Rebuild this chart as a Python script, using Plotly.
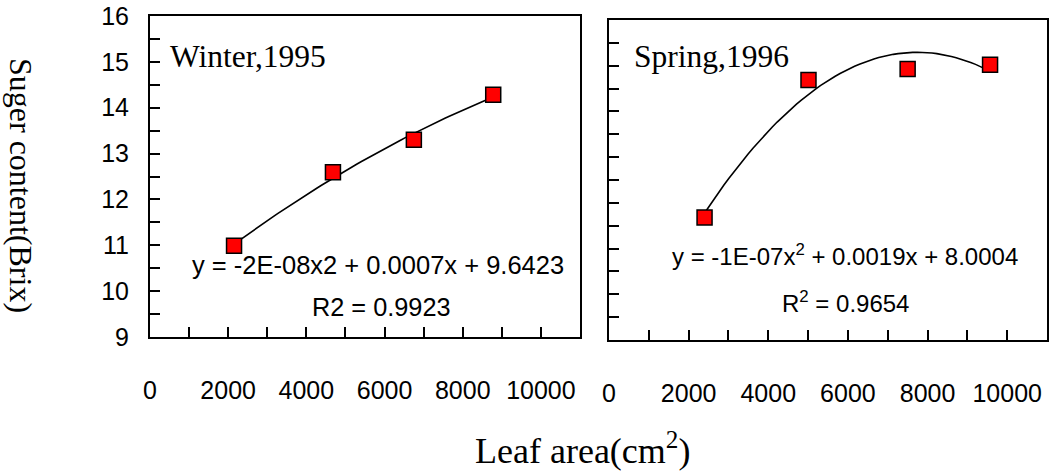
import numpy as np
import plotly.graph_objects as go

# ---- data ----
winter_area = [2150, 4680, 6750, 8780]
winter_sugar = [10.99, 12.59, 13.30, 14.28]
spring_area = [2400, 5010, 7500, 9570]
spring_sugar = [11.68, 14.69, 14.93, 15.02]

x_tickvals = [0, 2000, 4000, 6000, 8000, 10000]
x_ticktext = ["0", "2000", "4000", "6000", "8000", "10000"]
y_tickvals = [9, 10, 11, 12, 13, 14, 15, 16]

panel_titles = ["Winter,1995", "Spring,1996"]
equations = ["y = -2E-08x2 + 0.0007x + 9.6423", "y = -1E-07x<sup>2</sup> + 0.0019x + 8.0004"]
r2_texts = ["R2 = 0.9923", "R<sup>2</sup> = 0.9654"]

W, H = 1049, 472
SERIF = "Liberation Serif"
SANS = "Liberation Sans"

fig = go.Figure()

def trend(xs, ys):
    c = np.polyfit(xs, ys, 2)
    xx = np.linspace(min(xs), max(xs), 60)
    return xx, np.polyval(c, xx)

for i, (xs, ys) in enumerate([(winter_area, winter_sugar), (spring_area, spring_sugar)]):
    xa = "x" if i == 0 else "x2"
    ya = "y" if i == 0 else "y2"
    tx, ty = trend(xs, ys)
    fig.add_trace(go.Scatter(x=tx, y=ty, mode="lines", xaxis=xa, yaxis=ya,
                             line=dict(color="black", width=1.6), showlegend=False,
                             hoverinfo="skip"))
    fig.add_trace(go.Scatter(x=xs, y=ys, mode="markers", xaxis=xa, yaxis=ya,
                             marker=dict(symbol="square", size=15, color="#ff0000",
                                         line=dict(color="black", width=1.5)),
                             showlegend=False))

def px_x(p):
    return p / W

def px_y(p):
    return 1 - p / H

common_x = dict(range=[0, 11000], tickvals=x_tickvals, ticktext=x_ticktext,
                ticks="inside", ticklen=10, tickwidth=2, tickcolor="black",
                minor=dict(dtick=1000, tick0=0, ticks="inside", ticklen=10, tickwidth=2, tickcolor="black"),
                showline=True, linecolor="black", linewidth=2, mirror=True,
                showgrid=False, zeroline=False, automargin=False,
                tickfont=dict(family=SANS, size=25, color="black"),
                ticklabelstandoff=30)
common_y = dict(range=[9, 16], tickvals=y_tickvals,
                ticks="inside", ticklen=10, tickwidth=2, tickcolor="black",
                minor=dict(dtick=0.5, tick0=9, ticks="inside", ticklen=10, tickwidth=2, tickcolor="black"),
                showline=True, linecolor="black", linewidth=2, mirror=True,
                showgrid=False, zeroline=False, automargin=False,
                tickfont=dict(family=SANS, size=25, color="black"))

fig.update_layout(
    template="none",
    width=W, height=H,
    margin=dict(l=0, r=0, t=0, b=0, autoexpand=False),
    paper_bgcolor="white", plot_bgcolor="white",
    xaxis=dict(domain=[px_x(150), px_x(580)], anchor="y", **common_x),
    yaxis=dict(domain=[px_y(337), px_y(16)], anchor="x", ticklabelstandoff=14, **common_y),
    xaxis2=dict(domain=[px_x(609), px_x(1047)], anchor="y2", **common_x),
    yaxis2=dict(domain=[px_y(340), px_y(20)], anchor="x2", showticklabels=False, **common_y),
)

ann = []
# panel titles
ann.append(dict(x=px_x(168), y=px_y(56), xref="paper", yref="paper", text=panel_titles[0],
                showarrow=False, xanchor="left", yanchor="middle",
                font=dict(family=SERIF, size=31.5, color="black")))
ann.append(dict(x=px_x(632), y=px_y(56), xref="paper", yref="paper", text=panel_titles[1],
                showarrow=False, xanchor="left", yanchor="middle",
                font=dict(family=SERIF, size=31.5, color="black")))
# equations
ann.append(dict(x=px_x(378), y=px_y(265), xref="paper", yref="paper", text=equations[0],
                showarrow=False, xanchor="center", yanchor="middle",
                font=dict(family=SANS, size=25.5, color="black")))
ann.append(dict(x=px_x(381), y=px_y(307), xref="paper", yref="paper", text=r2_texts[0],
                showarrow=False, xanchor="center", yanchor="middle",
                font=dict(family=SANS, size=25.3, color="black")))
ann.append(dict(x=px_x(845), y=px_y(255), xref="paper", yref="paper", text=equations[1],
                showarrow=False, xanchor="center", yanchor="middle",
                font=dict(family=SANS, size=24, color="black")))
ann.append(dict(x=px_x(845), y=px_y(302), xref="paper", yref="paper", text=r2_texts[1],
                showarrow=False, xanchor="center", yanchor="middle",
                font=dict(family=SANS, size=24, color="black")))
# axis titles
ann.append(dict(x=px_x(21), y=px_y(185), xref="paper", yref="paper", text="Suger content(Brix)",
                showarrow=False, textangle=90, xanchor="center", yanchor="middle",
                font=dict(family=SERIF, size=32, color="black")))
ann.append(dict(x=px_x(582), y=px_y(448), xref="paper", yref="paper", text="Leaf area(cm<sup>2</sup>)",
                showarrow=False, xanchor="center", yanchor="middle",
                font=dict(family=SERIF, size=36, color="black")))
fig.update_layout(annotations=ann)

fig.write_html("out.html", config={"displayModeBar": False},
               post_script="document.body.style.margin='0px';document.body.style.padding='0px';")
